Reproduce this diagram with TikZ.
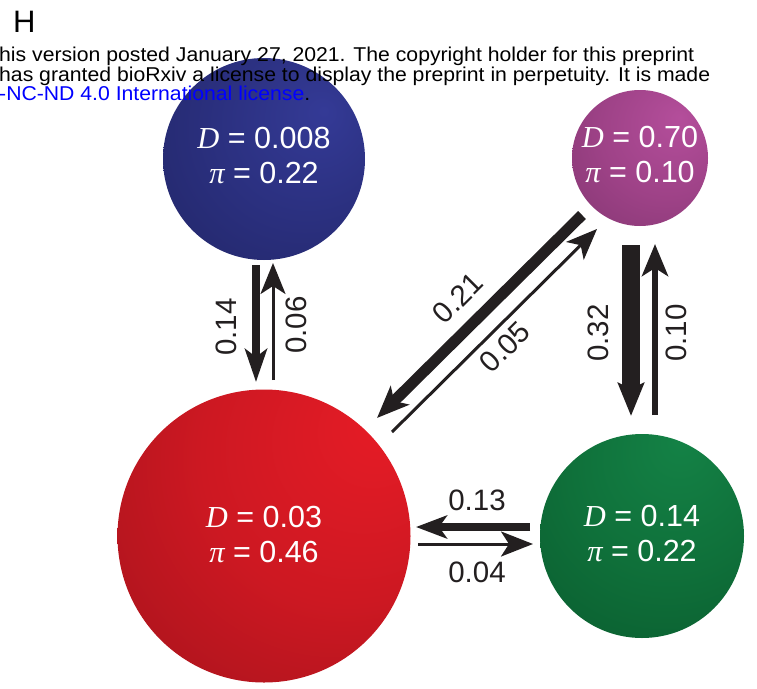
\documentclass[tikz,border=0pt]{standalone}
\usepackage{fontspec}
\setmainfont{Liberation Sans}
\newfontfamily\tmsfont{Liberation Serif}
\usetikzlibrary{arrows.meta}
\definecolor{ink}{RGB}{35,31,32}
\definecolor{linkblue}{RGB}{0,0,255}
\pgfdeclareradialshading{redball}{\pgfpoint{21bp}{20bp}}{color(0bp)=(rgb,255:red,230;green,28;blue,38); color(25bp)=(rgb,255:red,205;green,24;blue,34); color(55bp)=(rgb,255:red,155;green,18;blue,26); color(80bp)=(rgb,255:red,110;green,13;blue,18)}
\pgfdeclareradialshading{greenball}{\pgfpoint{10bp}{24bp}}{color(0bp)=(rgb,255:red,20;green,130;blue,70); color(25bp)=(rgb,255:red,15;green,112;blue,58); color(55bp)=(rgb,255:red,8;green,86;blue,43); color(80bp)=(rgb,255:red,4;green,56;blue,28)}
\pgfdeclareradialshading{blueball}{\pgfpoint{15bp}{12bp}}{color(0bp)=(rgb,255:red,52;green,58;blue,150); color(25bp)=(rgb,255:red,42;green,47;blue,125); color(55bp)=(rgb,255:red,30;green,34;blue,94); color(80bp)=(rgb,255:red,16;green,18;blue,62)}
\pgfdeclareradialshading{purpleball}{\pgfpoint{15bp}{15bp}}{color(0bp)=(rgb,255:red,180;green,78;blue,155); color(25bp)=(rgb,255:red,158;green,66;blue,135); color(55bp)=(rgb,255:red,122;green,50;blue,106); color(80bp)=(rgb,255:red,86;green,34;blue,76)}
\newcommand{\Dv}{{\tmsfont\itshape D}}
\newcommand{\Pv}{{\tmsfont\itshape π}}
\tikzset{
  ball/.style={circle, inner sep=0pt},
  balltext/.style={text=white, align=center, inner sep=0pt, font=\fontsize{30.5}{35}\selectfont},
  rate/.style={font=\fontsize{29.5}{32}\selectfont, text=ink, inner sep=0pt},
  thickarrow/.style={draw=ink, line width=#1},
  hdr/.style={font=\fontsize{20}{20}\selectfont, inner sep=0pt, anchor=base west},
}
\begin{document}
\begin{tikzpicture}[x=1pt,y=-1pt]
\useasboundingbox (0,0) rectangle (757,688);
% spheres
\node[ball, minimum size=202pt, shading=blueball] (blue) at (264,159) {};
\node[ball, minimum size=136pt, shading=purpleball] (purple) at (640,158) {};
\node[ball, minimum size=293pt, shading=redball] (red) at (264,536) {};
\node[ball, minimum size=204pt, shading=greenball] (green) at (642,536) {};
\node[balltext, yshift=4pt] (blueT) at (blue.center) {\Dv{} = 0.008\\\Pv{} = 0.22};
\node[balltext, yshift=4pt] (purpleT) at (purple.center) {\Dv{} = 0.70\\\Pv{} = 0.10};
\node[balltext, yshift=2pt] (redT) at (red.center) {\Dv{} = 0.03\\\Pv{} = 0.46};
\node[balltext, yshift=3pt] (greenT) at (green.center) {\Dv{} = 0.14\\\Pv{} = 0.22};
% header
\node[font=\fontsize{31}{32}\selectfont, inner sep=0pt, anchor=base west] (H) at (13,32) {H};
\node[hdr] (l1) at (-1,61.5) {\scalebox{1.06}[1]{his version posted January 27, 2021. The copyright holder for this preprint}};
\node[hdr] (l2) at (-1,81) {\scalebox{1.06}[1]{has granted bioRxiv a license to display the preprint in perpetuity. It is made}};
\node[hdr] (l3) at (-1,100.5) {\scalebox{1.06}[1]{\textcolor{linkblue}{-NC-ND 4.0 International license}.}};
% arrow end points
\coordinate (br1) at (256,265); \coordinate (br2) at (256,382);
\coordinate (rb1) at (273,380); \coordinate (rb2) at (273,263);
\coordinate (pg1) at (631,245); \coordinate (pg2) at (631,416);
\coordinate (gp1) at (655,415); \coordinate (gp2) at (655,244);
\coordinate (pr1) at (582,215); \coordinate (pr2) at (377,418);
\coordinate (rp1) at (392,432); \coordinate (rp2) at (597,229);
\coordinate (gr1) at (530,527); \coordinate (gr2) at (416,527);
\coordinate (rg1) at (418,544); \coordinate (rg2) at (533,544);
% arrows
\draw[thickarrow=8pt, -{Stealth[length=33pt,width=22pt,inset=8pt]}] (br1) -- (br2);
\draw[thickarrow=3pt, -{Stealth[length=31pt,width=25pt,inset=8pt]}] (rb1) -- (rb2);
\draw[thickarrow=18pt, -{Stealth[length=33pt,width=26pt,inset=6pt]}] (pg1) -- (pg2);
\draw[thickarrow=6pt, -{Stealth[length=32pt,width=26pt,inset=8pt]}] (gp1) -- (gp2);
\draw[thickarrow=11pt, -{Stealth[length=32pt,width=26pt,inset=8pt]}] (pr1) -- (pr2);
\draw[thickarrow=3pt, -{Stealth[length=31pt,width=25pt,inset=8pt]}] (rp1) -- (rp2);
\draw[thickarrow=8pt, -{Stealth[length=31pt,width=23pt,inset=8pt]}] (gr1) -- (gr2);
\draw[thickarrow=3pt, -{Stealth[length=32pt,width=25pt,inset=8pt]}] (rg1) -- (rg2);
% labels
\node[rate, rotate=90] (t14) at (226,327) {0.14};
\node[rate, rotate=90] (t06) at (296,325) {0.06};
\node[rate, rotate=90] (t32) at (598,333) {0.32};
\node[rate, rotate=90] (t10) at (676,333) {0.10};
\node[rate, rotate=45] (t21) at (458,298) {0.21};
\node[rate, rotate=45] (t05) at (505,347) {0.05};
\node[rate] (t13) at (477,500) {0.13};
\node[rate] (t04) at (477,572) {0.04};
\end{tikzpicture}
\end{document}
